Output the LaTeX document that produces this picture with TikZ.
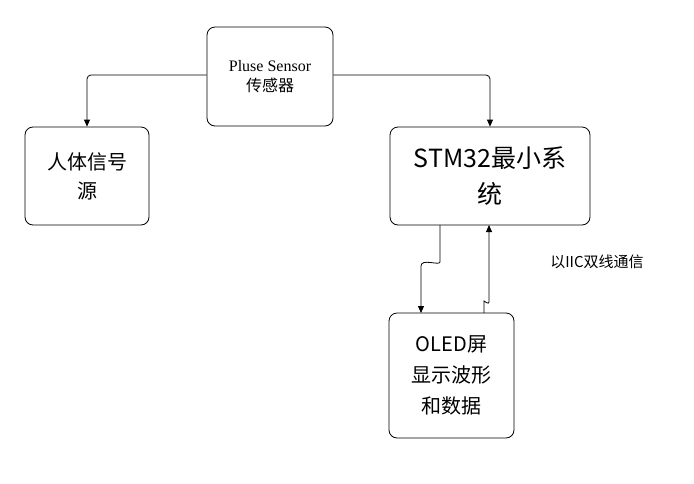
\documentclass[tikz,border=0pt]{standalone}
\usepackage{fontspec}
\setmainfont{Liberation Serif}
\newfontfamily\cjk{Noto Sans CJK SC}
\usetikzlibrary{arrows.meta}
\begin{document}
\begin{tikzpicture}[x=1pt,y=-1pt,
  box/.style={draw,rounded corners=8pt,line width=0.8pt,align=center,inner sep=0pt},
  arr/.style={-{Triangle[length=7pt,width=6pt]},line width=0.8pt,rounded corners=4pt}]
\useasboundingbox (0,0) rectangle (694,483);
\node[box,minimum width=126pt,minimum height=99pt,font=\fontsize{16}{20}\selectfont] (s) at (270,76.5) {Pluse Sensor\\{\cjk 传感器}};
\node[box,minimum width=124pt,minimum height=98pt,font=\cjk\fontsize{20}{29}\selectfont] (h) at (87,176) {人体信号\\源};
\node[box,minimum width=200pt,minimum height=98pt,font=\cjk\fontsize{25}{36}\selectfont] (m) at (490,176) {STM32最小系\\统};
\node[box,minimum width=125pt,minimum height=125pt,font=\cjk\fontsize{20}{31}\selectfont] (o) at (451.5,375.5) {OLED屏\\显示波形\\和数据};
\node[font=\cjk\fontsize{15}{18}\selectfont] (l) at (597,262) {以IIC双线通信};
\draw[arr] (s.west|-0,75) -| (h.north);
\draw[arr] (s.east|-0,75) -| (m.north);
\draw[arr] (440,225) -- (440,258) .. controls (440,266) and (421,258) .. (421,270) -- (421,313);
\draw[arr] (484,313) -- (484,305) .. controls (484,301) and (489,305) .. (489,298) -- (489,225);
\end{tikzpicture}
\end{document}
